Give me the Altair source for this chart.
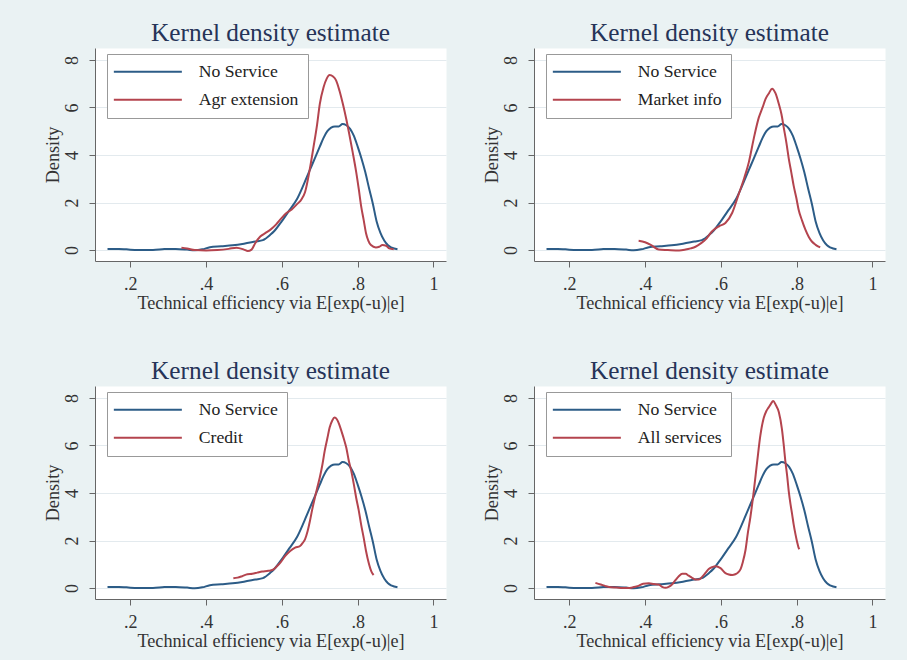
import altair as alt
import pandas as pd

# ---------------- data ----------------
base_label = "No Service"
panel_labels = ["Agr extension", "Market info", "Credit", "All services"]
x_ticks = [0.2, 0.4, 0.6, 0.8, 1.0]
y_ticks = [0, 2, 4, 6, 8]
title_text = "Kernel density estimate"
x_title = "Technical efficiency via E[exp(-u)|e]"
y_title = "Density"

# No Service (same control group in every panel)
ns_x = [0.14, 0.17, 0.19, 0.22, 0.26, 0.29, 0.32, 0.35, 0.37, 0.39,
        0.41, 0.44, 0.47, 0.50, 0.53, 0.55, 0.57, 0.58, 0.60, 0.62,
        0.64, 0.66, 0.68, 0.70, 0.71, 0.72, 0.73, 0.74, 0.75, 0.76,
        0.77, 0.78, 0.79, 0.80, 0.81, 0.82, 0.83, 0.84, 0.85, 0.86,
        0.87, 0.88, 0.89, 0.905]
ns_y = [0.04, 0.05, 0.03, 0.0, 0.0, 0.04, 0.05, 0.02, -0.01, 0.03,
        0.12, 0.16, 0.2, 0.27, 0.36, 0.42, 0.65, 0.8, 1.22, 1.68,
        2.15, 2.85, 3.6, 4.35, 4.72, 5.0, 5.15, 5.2, 5.2, 5.3,
        5.25, 5.1, 4.8, 4.35, 3.85, 3.28, 2.6, 1.95, 1.2, 0.72,
        0.4, 0.2, 0.1, 0.03]

# Agr extension
ae_x = [0.335, 0.35, 0.37, 0.40, 0.43, 0.46, 0.48, 0.50, 0.51, 0.52,
        0.53, 0.543, 0.557, 0.57, 0.585, 0.596, 0.613, 0.626, 0.64, 0.652,
        0.661, 0.674, 0.683, 0.693, 0.70, 0.71, 0.718, 0.726, 0.735, 0.743,
        0.752, 0.761, 0.77, 0.778, 0.787, 0.796, 0.803, 0.809, 0.816, 0.822,
        0.828, 0.835, 0.848, 0.857, 0.865, 0.875, 0.883, 0.895]
ae_y = [0.1, 0.07, 0.0, -0.02, 0.0, 0.05, 0.1, 0.02, -0.04, 0.02,
        0.3, 0.57, 0.72, 0.86, 1.08, 1.29, 1.57, 1.71, 1.93, 2.14,
        2.43, 3.43, 4.29, 5.29, 6.14, 6.85, 7.2, 7.36, 7.3, 7.14,
        6.7, 6.14, 5.5, 4.86, 4.1, 3.29, 2.55, 1.86, 1.25, 0.71,
        0.4, 0.21, 0.11, 0.14, 0.21, 0.18, 0.07, 0.03]

# Market info
mi_x = [0.383, 0.40, 0.415, 0.436, 0.46, 0.49, 0.507, 0.52, 0.533, 0.547,
        0.56, 0.577, 0.595, 0.612, 0.63, 0.647, 0.661, 0.674, 0.687, 0.70,
        0.71, 0.718, 0.727, 0.735, 0.744, 0.753, 0.76, 0.766, 0.773, 0.779,
        0.786, 0.792, 0.799, 0.805, 0.814, 0.823, 0.832, 0.84, 0.85, 0.862]
mi_y = [0.39, 0.33, 0.22, 0.02, 0.0, -0.02, 0.02, 0.07, 0.14, 0.28,
        0.45, 0.79, 1.0, 1.14, 1.57, 2.35, 3.0, 3.71, 4.71, 5.57,
        6.0, 6.36, 6.6, 6.79, 6.6, 6.14, 5.7, 5.14, 4.5, 3.86,
        3.25, 2.71, 2.2, 1.71, 1.25, 0.86, 0.55, 0.36, 0.22, 0.11]

# Credit
cr_x = [0.472, 0.483, 0.495, 0.509, 0.522, 0.535, 0.548, 0.561, 0.57, 0.578,
        0.587, 0.596, 0.609, 0.622, 0.635, 0.648, 0.655, 0.661, 0.668, 0.674,
        0.68, 0.687, 0.693, 0.70, 0.707, 0.713, 0.72, 0.726, 0.733, 0.739,
        0.745, 0.751, 0.757, 0.764, 0.77, 0.776, 0.783, 0.79, 0.796, 0.803,
        0.809, 0.816, 0.822, 0.83, 0.836, 0.842]
cr_y = [0.41, 0.44, 0.5, 0.58, 0.6, 0.65, 0.7, 0.72, 0.74, 0.79,
        0.92, 1.07, 1.35, 1.56, 1.7, 1.77, 1.9, 2.05, 2.4, 2.82,
        3.3, 3.8, 4.2, 4.65, 5.2, 5.77, 6.3, 6.75, 7.05, 7.17,
        7.1, 6.9, 6.61, 6.25, 5.9, 5.4, 4.93, 4.35, 3.8, 3.25,
        2.68, 2.1, 1.56, 1.0, 0.7, 0.55]

# All services
as_x = [0.269, 0.283, 0.296, 0.31, 0.325, 0.34, 0.355, 0.368, 0.38, 0.395,
        0.41, 0.423, 0.436, 0.445, 0.454, 0.462, 0.471, 0.48, 0.489, 0.498,
        0.507, 0.515, 0.524, 0.533, 0.542, 0.551, 0.56, 0.568, 0.577, 0.586,
        0.599, 0.612, 0.621, 0.63, 0.638, 0.645, 0.652, 0.658, 0.665, 0.671,
        0.678, 0.687, 0.696, 0.704, 0.713, 0.72, 0.726, 0.732, 0.738, 0.745,
        0.753, 0.761, 0.766, 0.77, 0.775, 0.779, 0.784, 0.788, 0.792, 0.797,
        0.801, 0.805, 0.807]
as_y = [0.22, 0.15, 0.08, 0.03, 0.02, 0.0, 0.0, 0.03, 0.08, 0.18,
        0.2, 0.17, 0.15, 0.05, 0.01, 0.05, 0.15, 0.33, 0.5, 0.6,
        0.6, 0.52, 0.43, 0.36, 0.36, 0.48, 0.65, 0.8, 0.88, 0.92,
        0.84, 0.63, 0.57, 0.55, 0.58, 0.65, 0.8, 1.1, 1.6, 2.3,
        3.0, 4.1, 5.35, 6.4, 7.15, 7.45, 7.6, 7.75, 7.87, 7.7,
        7.4, 6.7, 6.0, 5.35, 4.7, 4.08, 3.5, 3.1, 2.68, 2.25,
        1.95, 1.7, 1.63]

treated = [(ae_x, ae_y), (mi_x, mi_y), (cr_x, cr_y), (as_x, as_y)]

# ---------------- style ----------------
BG = "#eaf2f3"
BLUE = "#2c5c87"
RED = "#b4444e"
FONT = "Liberation Serif"
AXIS_COL = "#666666"
TEXT_COL = "#333333"


def panel(label, rx, ry):
    df = pd.DataFrame({
        "x": ns_x + rx,
        "y": ns_y + ry,
        "series": [base_label] * len(ns_x) + [label] * len(rx),
    })
    return alt.Chart(df).mark_line(strokeWidth=2, interpolate="monotone").encode(
        x=alt.X("x:Q",
                scale=alt.Scale(domain=[0.107, 1.033], nice=False, zero=False),
                axis=alt.Axis(values=x_ticks, title=x_title, grid=False,
                              labelExpr="datum.value >= 1 ? '1' : replace(format(datum.value, '.1f'), '0.', '.')")),
        y=alt.Y("y:Q",
                scale=alt.Scale(domain=[-0.46, 8.5], nice=False, zero=False),
                axis=alt.Axis(values=y_ticks, title=y_title, grid=True,
                              labelAngle=270, labelAlign="center",
                              labelBaseline="alphabetic")),
        color=alt.Color("series:N",
                        scale=alt.Scale(domain=[base_label, label], range=[BLUE, RED]),
                        legend=alt.Legend(title=None, orient="none",
                                          legendX=12, legendY=6)),
    ).properties(width=351, height=213, title=title_text)


charts = [panel(lab, tx, ty) for lab, (tx, ty) in zip(panel_labels, treated)]

chart = alt.concat(
    *charts, columns=2, spacing={"row": 125, "column": 88}, bounds="flush"
).resolve_scale(color="independent").configure(
    background=BG,
    padding={"left": 42, "top": 20, "right": 21, "bottom": 12},
    font=FONT,
).configure_view(
    fill="white", stroke="transparent"
).configure_axis(
    labelFont=FONT, labelFontSize=18, labelColor=TEXT_COL,
    titleFont=FONT, titleFontSize=18.2, titleFontWeight="normal", titleColor=TEXT_COL,
    domainColor=AXIS_COL, tickColor=AXIS_COL, tickSize=6,
    gridColor="#e3eaee", gridWidth=1,
).configure_axisX(
    labelPadding=8, titlePadding=1
).configure_axisY(
    labelPadding=12, titlePadding=1
).configure_title(
    font=FONT, fontSize=25.3, fontWeight="normal", color="#263458",
    offset=2, anchor="middle"
).configure_legend(
    labelFont=FONT, labelFontSize=17.7, labelColor="#222222",
    strokeColor="#999999", fillColor="white", padding=9, rowPadding=9,
    symbolType="M-5,0H5", symbolSize=185, symbolStrokeWidth=2,
    symbolOffset=23, labelOffset=42, cornerRadius=0, strokeWidth=1,
)

chart.save("out.html", embed_options={"renderer": "svg", "actions": False})
